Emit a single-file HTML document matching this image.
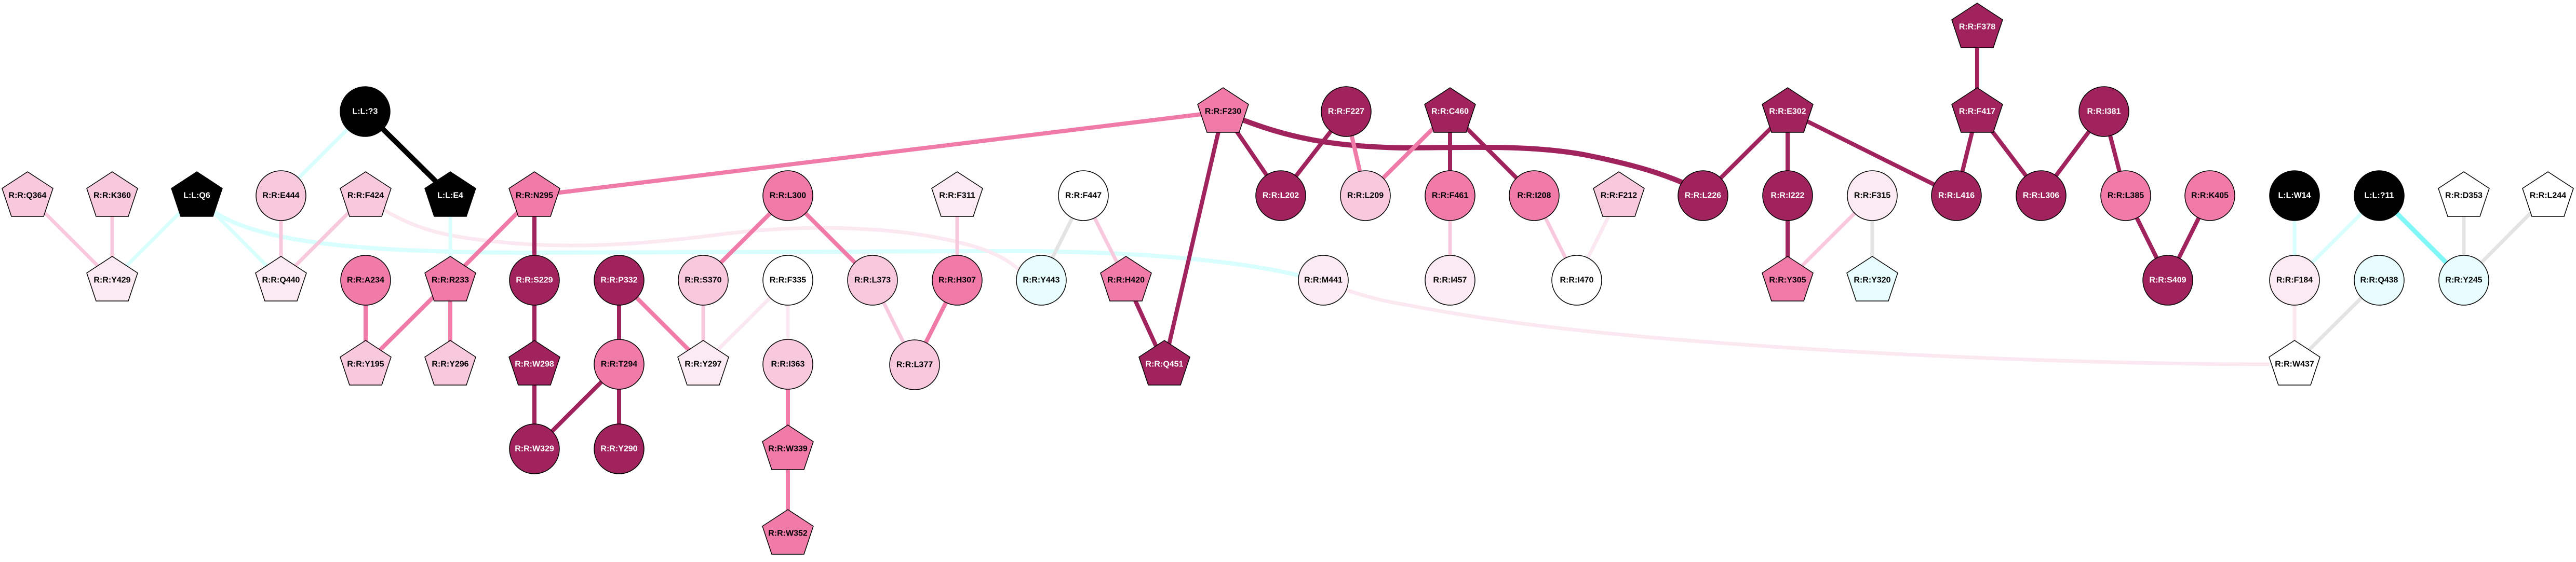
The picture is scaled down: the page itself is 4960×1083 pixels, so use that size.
<!DOCTYPE html>
<html><head><meta charset="utf-8"><style>
html,body{margin:0;padding:0;background:#fff;width:4960px;height:1083px;overflow:hidden}
svg text{font-family:"Liberation Sans",Arial,sans-serif;font-weight:bold;font-size:16px;text-anchor:middle;dominant-baseline:central}
</style></head><body>
<svg width="4960" height="1083" viewBox="0 0 4960 1083" xmlns="http://www.w3.org/2000/svg">
<g fill="none" stroke-linecap="butt">
<path d="M390,390 C470,470 700,485 1000,487 L1900,484 C2200,482 2400,505 2510,533" stroke="#d8fefe" stroke-width="8"/>
<path d="M740,405 C800,440 850,455 950,465 C1100,482 1250,470 1400,450 C1550,432 1700,438 1800,457 C1880,472 1930,490 1962,520" stroke="#fbe8f0" stroke-width="7"/>
<path d="M2590,558 C2640,575 2680,583 2700,586 C2900,625 3100,645 3300,660 C3700,690 4100,702 4370,702" stroke="#fbe8f0" stroke-width="7"/>
<path d="M2385,228 C2480,265 2560,282 2700,285 C2850,284 2950,280 3050,298 C3150,318 3200,335 3240,352" stroke="#a0235d" stroke-width="10"/>
<path d="M1029,377 L2355,215" stroke="#f07aa8" stroke-width="8"/>
<line x1="703" y1="215" x2="867" y2="377" stroke="#000" stroke-width="10"/>
<g stroke="#d8fefe" stroke-width="7">
<line x1="703" y1="215" x2="541" y2="377"/>
<line x1="379" y1="377" x2="216" y2="540"/>
<line x1="379" y1="377" x2="541" y2="540"/>
<line x1="867" y1="377" x2="867" y2="540"/>
<line x1="4418" y1="377" x2="4418" y2="540"/>
<line x1="4581" y1="377" x2="4418" y2="540"/>
</g>
<line x1="4581" y1="377" x2="4744" y2="540" stroke="#80f8f8" stroke-width="9"/>
<g stroke="#e4e4e4" stroke-width="7">
<line x1="2086" y1="377" x2="2005" y2="540"/>
<line x1="3605" y1="377" x2="3605" y2="540"/>
<line x1="4581" y1="540" x2="4418" y2="702"/>
<line x1="4744" y1="377" x2="4744" y2="540"/>
<line x1="4906" y1="377" x2="4744" y2="540"/>
</g>
<g stroke="#fbe8f0" stroke-width="7">
<line x1="1517" y1="540" x2="1354" y2="702"/>
<line x1="1517" y1="540" x2="1517" y2="702"/>
<line x1="3117" y1="377" x2="3036" y2="540"/>
<line x1="4418" y1="540" x2="4418" y2="702"/>
</g>
<g stroke="#f8c8dc" stroke-width="7">
<line x1="53" y1="377" x2="216" y2="540"/>
<line x1="216" y1="377" x2="216" y2="540"/>
<line x1="541" y1="377" x2="541" y2="540"/>
<line x1="704" y1="377" x2="541" y2="540"/>
<line x1="1354" y1="540" x2="1354" y2="702"/>
<line x1="1680" y1="540" x2="1761" y2="703"/>
<line x1="1843" y1="377" x2="1843" y2="540"/>
<line x1="2086" y1="377" x2="2168" y2="540"/>
<line x1="2792" y1="377" x2="2792" y2="540"/>
<line x1="2954" y1="377" x2="3036" y2="540"/>
<line x1="3605" y1="377" x2="3442" y2="540"/>
</g>
<g stroke="#f07aa8" stroke-width="8">
<line x1="704" y1="540" x2="704" y2="702"/>
<line x1="867" y1="540" x2="704" y2="702"/>
<line x1="867" y1="540" x2="867" y2="702"/>
<line x1="867" y1="540" x2="1029" y2="377"/>
<line x1="1192" y1="540" x2="1354" y2="702"/>
<line x1="1517" y1="702" x2="1517" y2="865"/>
<line x1="1517" y1="865" x2="1517" y2="1028"/>
<line x1="1517" y1="377" x2="1354" y2="540"/>
<line x1="1517" y1="377" x2="1680" y2="540"/>
<line x1="1843" y1="540" x2="1761" y2="703"/>
<line x1="2592" y1="215" x2="2629" y2="377"/>
<line x1="2792" y1="215" x2="2629" y2="377"/>
</g>
<g stroke="#a0235d" stroke-width="8">
<line x1="1029" y1="377" x2="1029" y2="540"/>
<line x1="1029" y1="540" x2="1029" y2="702"/>
<line x1="1029" y1="702" x2="1029" y2="865"/>
<line x1="1192" y1="702" x2="1029" y2="865"/>
<line x1="1192" y1="540" x2="1192" y2="702"/>
<line x1="1192" y1="702" x2="1192" y2="865"/>
<line x1="2168" y1="540" x2="2242" y2="702"/>
<line x1="2355" y1="215" x2="2242" y2="702"/>
<line x1="2355" y1="215" x2="2466" y2="377"/>
<line x1="2592" y1="215" x2="2466" y2="377"/>
<line x1="2792" y1="215" x2="2792" y2="377"/>
<line x1="2792" y1="215" x2="2954" y2="377"/>
<line x1="3442" y1="215" x2="3279" y2="377"/>
<line x1="3442" y1="215" x2="3442" y2="377"/>
<line x1="3442" y1="215" x2="3767" y2="377"/>
<line x1="3442" y1="377" x2="3442" y2="540"/>
<line x1="3807" y1="52" x2="3807" y2="215"/>
<line x1="3807" y1="215" x2="3767" y2="377"/>
<line x1="3807" y1="215" x2="3930" y2="377"/>
<line x1="4051" y1="215" x2="3930" y2="377"/>
<line x1="4051" y1="215" x2="4093" y2="377"/>
<line x1="4093" y1="377" x2="4174" y2="540"/>
<line x1="4255" y1="377" x2="4174" y2="540"/>
</g>
</g>
<g stroke="#000" stroke-width="1.5">
<circle cx="703" cy="215" r="48" fill="#000"/>
<circle cx="541" cy="377" r="48" fill="#f8c8dc"/>
<circle cx="704" cy="540" r="48" fill="#f07aa8"/>
<circle cx="1029" cy="540" r="48" fill="#a0235d"/>
<circle cx="1029" cy="865" r="48" fill="#a0235d"/>
<circle cx="1192" cy="540" r="48" fill="#a0235d"/>
<circle cx="1192" cy="702" r="48" fill="#f07aa8"/>
<circle cx="1192" cy="865" r="48" fill="#a0235d"/>
<circle cx="1354" cy="540" r="48" fill="#f8c8dc"/>
<circle cx="1517" cy="377" r="48" fill="#f07aa8"/>
<circle cx="1517" cy="540" r="48" fill="#fff"/>
<circle cx="1517" cy="702" r="48" fill="#f8c8dc"/>
<circle cx="1680" cy="540" r="48" fill="#f8c8dc"/>
<circle cx="1761" cy="703" r="48" fill="#f8c8dc"/>
<circle cx="1843" cy="540" r="48" fill="#f07aa8"/>
<circle cx="2086" cy="377" r="48" fill="#fff"/>
<circle cx="2005" cy="540" r="48" fill="#e8fefe"/>
<circle cx="2466" cy="377" r="48" fill="#a0235d"/>
<circle cx="2592" cy="215" r="48" fill="#a0235d"/>
<circle cx="2629" cy="377" r="48" fill="#f8c8dc"/>
<circle cx="2548" cy="540" r="48" fill="#fbeaf2"/>
<circle cx="2792" cy="377" r="48" fill="#f07aa8"/>
<circle cx="2792" cy="540" r="48" fill="#fbeaf2"/>
<circle cx="2954" cy="377" r="48" fill="#f07aa8"/>
<circle cx="3036" cy="540" r="48" fill="#fff"/>
<circle cx="3279" cy="377" r="48" fill="#a0235d"/>
<circle cx="3442" cy="377" r="48" fill="#a0235d"/>
<circle cx="3605" cy="377" r="48" fill="#fbeaf2"/>
<circle cx="3767" cy="377" r="48" fill="#a0235d"/>
<circle cx="3930" cy="377" r="48" fill="#a0235d"/>
<circle cx="4051" cy="215" r="48" fill="#a0235d"/>
<circle cx="4093" cy="377" r="48" fill="#f07aa8"/>
<circle cx="4255" cy="377" r="48" fill="#f07aa8"/>
<circle cx="4174" cy="540" r="48" fill="#a0235d"/>
<circle cx="4418" cy="377" r="48" fill="#000"/>
<circle cx="4418" cy="540" r="48" fill="#fbeaf2"/>
<circle cx="4581" cy="377" r="48" fill="#000"/>
<circle cx="4581" cy="540" r="48" fill="#e8fefe"/>
<circle cx="4744" cy="540" r="48" fill="#e8fefe"/>
</g>
<g stroke="#000" stroke-width="1.5">
<polygon transform="translate(53,377)" points="0,-46 49,-14 31,40 -31,40 -49,-14" fill="#f8c8dc"/>
<polygon transform="translate(216,377)" points="0,-46 49,-14 31,40 -31,40 -49,-14" fill="#f8c8dc"/>
<polygon transform="translate(379,377)" points="0,-46 49,-14 31,40 -31,40 -49,-14" fill="#000"/>
<polygon transform="translate(704,377)" points="0,-46 49,-14 31,40 -31,40 -49,-14" fill="#f8c8dc"/>
<polygon transform="translate(867,377)" points="0,-46 49,-14 31,40 -31,40 -49,-14" fill="#000"/>
<polygon transform="translate(216,540)" points="0,-46 49,-14 31,40 -31,40 -49,-14" fill="#fbeaf2"/>
<polygon transform="translate(541,540)" points="0,-46 49,-14 31,40 -31,40 -49,-14" fill="#fbeaf2"/>
<polygon transform="translate(867,540)" points="0,-46 49,-14 31,40 -31,40 -49,-14" fill="#f07aa8"/>
<polygon transform="translate(704,702)" points="0,-46 49,-14 31,40 -31,40 -49,-14" fill="#f8c8dc"/>
<polygon transform="translate(867,702)" points="0,-46 49,-14 31,40 -31,40 -49,-14" fill="#f8c8dc"/>
<polygon transform="translate(1029,377)" points="0,-46 49,-14 31,40 -31,40 -49,-14" fill="#f07aa8"/>
<polygon transform="translate(1029,702)" points="0,-46 49,-14 31,40 -31,40 -49,-14" fill="#a0235d"/>
<polygon transform="translate(1354,702)" points="0,-46 49,-14 31,40 -31,40 -49,-14" fill="#fbeaf2"/>
<polygon transform="translate(1517,865)" points="0,-46 49,-14 31,40 -31,40 -49,-14" fill="#f07aa8"/>
<polygon transform="translate(1517,1028)" points="0,-46 49,-14 31,40 -31,40 -49,-14" fill="#f07aa8"/>
<polygon transform="translate(1843,377)" points="0,-46 49,-14 31,40 -31,40 -49,-14" fill="#fbeaf2"/>
<polygon transform="translate(2168,540)" points="0,-46 49,-14 31,40 -31,40 -49,-14" fill="#f07aa8"/>
<polygon transform="translate(2242,702)" points="0,-46 49,-14 31,40 -31,40 -49,-14" fill="#a0235d"/>
<polygon transform="translate(2355,215)" points="0,-46 49,-14 31,40 -31,40 -49,-14" fill="#f07aa8"/>
<polygon transform="translate(2792,215)" points="0,-46 49,-14 31,40 -31,40 -49,-14" fill="#a0235d"/>
<polygon transform="translate(3117,377)" points="0,-46 49,-14 31,40 -31,40 -49,-14" fill="#f8c8dc"/>
<polygon transform="translate(3442,215)" points="0,-46 49,-14 31,40 -31,40 -49,-14" fill="#a0235d"/>
<polygon transform="translate(3442,540)" points="0,-46 49,-14 31,40 -31,40 -49,-14" fill="#f07aa8"/>
<polygon transform="translate(3605,540)" points="0,-46 49,-14 31,40 -31,40 -49,-14" fill="#e8fefe"/>
<polygon transform="translate(3807,52)" points="0,-46 49,-14 31,40 -31,40 -49,-14" fill="#a0235d"/>
<polygon transform="translate(3807,215)" points="0,-46 49,-14 31,40 -31,40 -49,-14" fill="#a0235d"/>
<polygon transform="translate(4418,702)" points="0,-46 49,-14 31,40 -31,40 -49,-14" fill="#fff"/>
<polygon transform="translate(4744,377)" points="0,-46 49,-14 31,40 -31,40 -49,-14" fill="#fff"/>
<polygon transform="translate(4906,377)" points="0,-46 49,-14 31,40 -31,40 -49,-14" fill="#fff"/>
</g>
<g fill="#fff">
<text x="703" y="215">L:L:?3</text>
<text x="379" y="377">L:L:Q6</text>
<text x="867" y="377">L:L:E4</text>
<text x="1029" y="540">R:R:S229</text>
<text x="1029" y="702">R:R:W298</text>
<text x="1029" y="865">R:R:W329</text>
<text x="1192" y="540">R:R:P332</text>
<text x="1192" y="865">R:R:Y290</text>
<text x="2242" y="702">R:R:Q451</text>
<text x="2466" y="377">R:R:L202</text>
<text x="2592" y="215">R:R:F227</text>
<text x="2792" y="215">R:R:C460</text>
<text x="3279" y="377">R:R:L226</text>
<text x="3442" y="215">R:R:E302</text>
<text x="3442" y="377">R:R:I222</text>
<text x="3767" y="377">R:R:L416</text>
<text x="3930" y="377">R:R:L306</text>
<text x="3807" y="52">R:R:F378</text>
<text x="3807" y="215">R:R:F417</text>
<text x="4051" y="215">R:R:I381</text>
<text x="4174" y="540">R:R:S409</text>
<text x="4418" y="377">L:L:W14</text>
<text x="4581" y="377">L:L:?11</text>
</g>
<g fill="#000">
<text x="53" y="377">R:R:Q364</text>
<text x="216" y="377">R:R:K360</text>
<text x="541" y="377">R:R:E444</text>
<text x="704" y="377">R:R:F424</text>
<text x="216" y="540">R:R:Y429</text>
<text x="541" y="540">R:R:Q440</text>
<text x="704" y="540">R:R:A234</text>
<text x="867" y="540">R:R:R233</text>
<text x="704" y="702">R:R:Y195</text>
<text x="867" y="702">R:R:Y296</text>
<text x="1029" y="377">R:R:N295</text>
<text x="1192" y="702">R:R:T294</text>
<text x="1354" y="540">R:R:S370</text>
<text x="1354" y="702">R:R:Y297</text>
<text x="1517" y="377">R:R:L300</text>
<text x="1517" y="540">R:R:F335</text>
<text x="1517" y="702">R:R:I363</text>
<text x="1517" y="865">R:R:W339</text>
<text x="1517" y="1028">R:R:W352</text>
<text x="1680" y="540">R:R:L373</text>
<text x="1761" y="703">R:R:L377</text>
<text x="1843" y="377">R:R:F311</text>
<text x="1843" y="540">R:R:H307</text>
<text x="2086" y="377">R:R:F447</text>
<text x="2005" y="540">R:R:Y443</text>
<text x="2168" y="540">R:R:H420</text>
<text x="2355" y="215">R:R:F230</text>
<text x="2629" y="377">R:R:L209</text>
<text x="2548" y="540">R:R:M441</text>
<text x="2792" y="377">R:R:F461</text>
<text x="2792" y="540">R:R:I457</text>
<text x="2954" y="377">R:R:I208</text>
<text x="3036" y="540">R:R:I470</text>
<text x="3117" y="377">R:R:F212</text>
<text x="3442" y="540">R:R:Y305</text>
<text x="3605" y="377">R:R:F315</text>
<text x="3605" y="540">R:R:Y320</text>
<text x="4093" y="377">R:R:L385</text>
<text x="4255" y="377">R:R:K405</text>
<text x="4418" y="540">R:R:F184</text>
<text x="4418" y="702">R:R:W437</text>
<text x="4581" y="540">R:R:Q438</text>
<text x="4744" y="540">R:R:Y245</text>
<text x="4744" y="377">R:R:D353</text>
<text x="4906" y="377">R:R:L244</text>
</g>
</svg>
</body></html>
